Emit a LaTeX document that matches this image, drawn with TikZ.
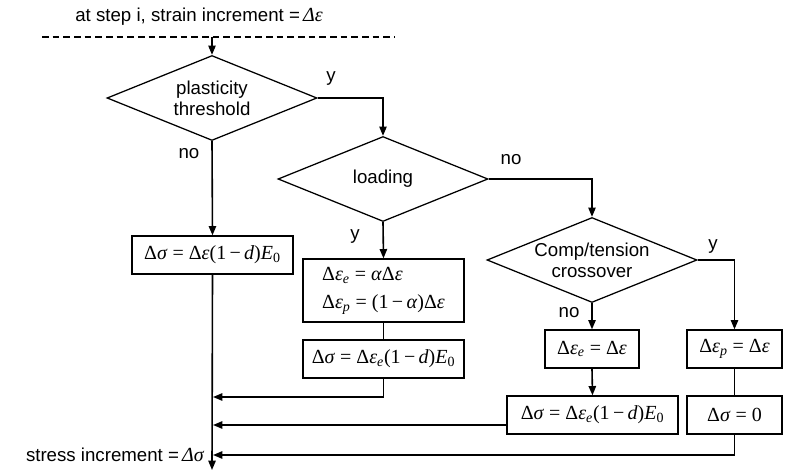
\documentclass[tikz,border=0pt]{standalone}
\usepackage{fontspec}
\setmainfont{Liberation Sans}
\newfontfamily\tms{Liberation Serif}
\usetikzlibrary{shapes.geometric,arrows.meta}
\newcommand{\lab}{\fontsize{14}{15.5}\selectfont}
\newcommand{\mth}{\fontsize{15}{17}\selectfont\tms}
\newcommand{\mi}[1]{\textit{#1}}
\newcommand{\sbi}[1]{\textsubscript{\itshape #1}}
\tikzset{
  dia/.style={diamond, draw, line width=0.95pt, minimum width=157.5pt, minimum height=63.75pt,
              aspect=2.47, inner sep=0pt, align=center, font=\lab},
  box/.style={draw, line width=0.95pt, inner sep=0pt, font=\mth},
  arr/.style={line width=1.2pt, -{Triangle[length=7pt,width=5.5pt]}},
  ln/.style={line width=0.95pt},
  lbl/.style={font=\lab, inner sep=0pt},
}
\begin{document}
\begin{tikzpicture}[x=0.75pt, y=-0.75pt]
\useasboundingbox (0,0) rectangle (790,471);

% top label and dashed line
\node[lbl] (title) at (199,17) {at step i, strain increment =\,{\tms\itshape\fontsize{15}{17}\selectfont Δε}};
\coordinate (dl) at (42,37);
\coordinate (dr) at (395,37);
\coordinate (top) at (212,37);
\draw[ln, dash pattern=on 5pt off 3pt] (dl) -- (dr);

% decisions
\node[dia] (d1) at (212,98) {plasticity\\threshold};
\node[dia] (d2) at (383,179) {loading};
\node[dia] (d3) at (592,260) {Comp/tension\\crossover};

% boxes
\node[box, minimum width=120.75pt, minimum height=28.5pt] (b1) at (212.5,255)
  {Δ\mi{σ} = Δ\mi{ε}(1\,−\,\mi{d})\mi{E}\textsubscript{0}};
\node[box, minimum width=120.75pt, minimum height=47.25pt, align=left] (b2) at (383.5,290.5)
  {Δ\mi{ε}\sbi{e} = \mi{α}Δ\mi{ε}\\[4pt]Δ\mi{ε}\sbi{p} = (1\,−\,\mi{α})Δ\mi{ε}};
\node[box, minimum width=120.75pt, minimum height=28.5pt] (b3) at (383.5,359)
  {Δ\mi{σ} = Δ\mi{ε}\sbi{e}(1\,−\,\mi{d})\mi{E}\textsubscript{0}};
\node[box, minimum width=70.5pt, minimum height=28.5pt] (b4) at (592,349)
  {Δ\mi{ε}\sbi{e} = Δ\mi{ε}};
\node[box, minimum width=128.25pt, minimum height=28.5pt] (b5) at (592.5,415)
  {Δ\mi{σ} = Δ\mi{ε}\sbi{e}(1\,−\,\mi{d})\mi{E}\textsubscript{0}};
\node[box, minimum width=71.25pt, minimum height=28.5pt] (b6) at (734.5,349)
  {Δ\mi{ε}\sbi{p} = Δ\mi{ε}};
\node[box, minimum width=71.25pt, minimum height=28.5pt] (b7) at (734.5,415)
  {Δ\mi{σ} = 0};

% branch labels
\node[lbl] (y1) at (331,79) {y};
\node[lbl] (n1) at (189,154) {no};
\node[lbl] (y2) at (355,237) {y};
\node[lbl] (n2) at (511,160) {no};
\node[lbl] (y3) at (713,247) {y};
\node[lbl] (n3) at (569,313) {no};

% connectors
\draw[arr] (top) -- (d1.north);
\draw[arr] (d1.east) -| (d2.north);
\draw[arr] (d2.east) -| (d3.north);
\draw[arr] (d1.south) -- (b1.north);
\draw[arr] (d2.south) -- (b2.north);
\draw[ln] (b2.south) -- (b3.north);
\draw[arr] (d3.south) -- (b4.north);
\draw[arr] (b4.south) -- (b5.north);
\draw[arr] (d3.east) -| (b6.north);
\draw[ln] (b6.south) -- (b7.north);

% collector line
\coordinate (end) at (212,470);
\coordinate (j1) at (213,397);
\coordinate (j2) at (213,425);
\coordinate (j3) at (213,455);
\draw[arr] (b1.south) -- (end);
\draw[arr] (b3.south) |- (j1);
\draw[arr] (j2 -| b5.west) -- (j2);
\draw[arr] (b7.south) |- (j3);

\node[lbl, anchor=east] (out) at (204,455) {stress increment =\,{\tms\itshape\fontsize{15}{17}\selectfont Δσ}};
\end{tikzpicture}
\end{document}
